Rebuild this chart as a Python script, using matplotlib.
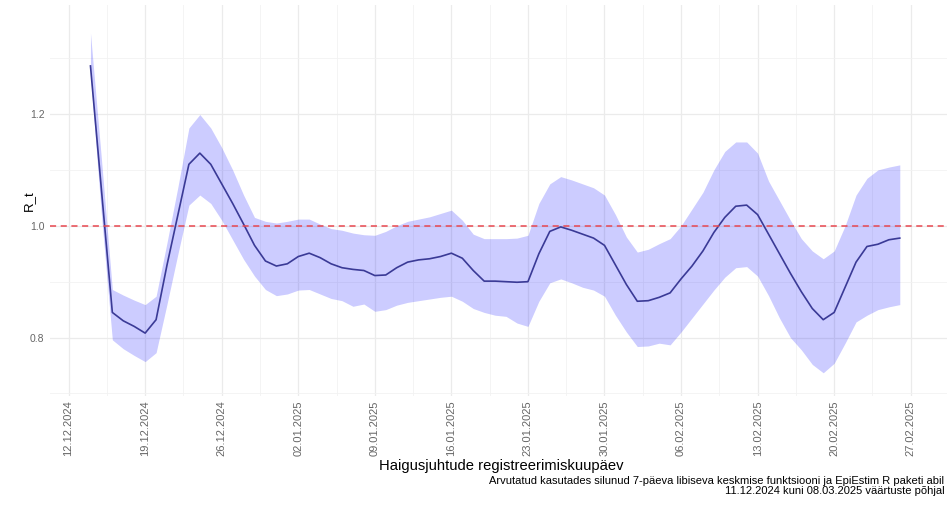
import matplotlib
matplotlib.use("Agg")
import matplotlib.pyplot as plt
import matplotlib.dates as mdates
import pandas as pd

plt.rcParams["font.family"] = ["Liberation Sans", "DejaVu Sans"]

# daily R_t estimate with 95% interval, 14.12.2024 - 26.02.2025
first_day = "2024-12-14"
r_mean = [
    1.286, 1.065, 0.845, 0.830, 0.820, 0.808, 0.832, 0.930, 1.020, 1.110,
    1.130, 1.110, 1.075, 1.040, 1.003, 0.965, 0.937, 0.928, 0.932, 0.945,
    0.951, 0.943, 0.932, 0.925, 0.922, 0.920, 0.911, 0.912, 0.925, 0.935,
    0.939, 0.941, 0.945, 0.951, 0.942, 0.920, 0.901, 0.901, 0.900, 0.899,
    0.900, 0.950, 0.990, 0.998, 0.992, 0.985, 0.978, 0.965, 0.930, 0.895,
    0.865, 0.866, 0.872, 0.880, 0.905, 0.928, 0.955, 0.988, 1.015, 1.035,
    1.037, 1.020, 0.985, 0.950, 0.915, 0.882, 0.852, 0.832, 0.845, 0.890,
    0.935, 0.963, 0.967, 0.975, 0.978,
]
r_upper = [
    1.345, 1.120, 0.886, 0.876, 0.867, 0.859, 0.874, 0.970, 1.070, 1.175,
    1.199, 1.175, 1.140, 1.100, 1.055, 1.015, 1.008, 1.005, 1.008, 1.012,
    1.012, 1.003, 0.995, 0.992, 0.987, 0.984, 0.983, 0.990, 1.000, 1.008,
    1.012, 1.016, 1.022, 1.028, 1.010, 0.985, 0.977, 0.977, 0.977, 0.978,
    0.983, 1.040, 1.075, 1.088, 1.082, 1.075, 1.068, 1.055, 1.020, 0.980,
    0.953, 0.958, 0.968, 0.977, 1.000, 1.030, 1.060, 1.100, 1.133, 1.150,
    1.150, 1.130, 1.080, 1.045, 1.010, 0.977, 0.955, 0.941, 0.955, 1.000,
    1.055, 1.085, 1.100, 1.105, 1.109,
]
r_lower = [
    1.270, 1.020, 0.796, 0.780, 0.768, 0.757, 0.773, 0.860, 0.950, 1.037,
    1.055, 1.040, 1.010, 0.975, 0.940, 0.910, 0.886, 0.875, 0.878, 0.885,
    0.886, 0.878, 0.870, 0.866, 0.856, 0.860, 0.847, 0.850, 0.858, 0.863,
    0.866, 0.869, 0.872, 0.874, 0.865, 0.852, 0.845, 0.840, 0.838, 0.826,
    0.820, 0.865, 0.898, 0.905, 0.898, 0.890, 0.885, 0.874, 0.840, 0.810,
    0.784, 0.785, 0.790, 0.787, 0.810, 0.835, 0.860, 0.885, 0.908, 0.925,
    0.927, 0.910, 0.875, 0.835, 0.800, 0.778, 0.752, 0.737, 0.754, 0.790,
    0.828, 0.840, 0.850, 0.855, 0.859,
]
y_ticks = [0.8, 1.0, 1.2]
y_minor = [0.7, 0.9, 1.1, 1.3]
tick_start, tick_end = "2024-12-12", "2025-02-27"

dates = pd.date_range(first_day, periods=len(r_mean), freq="D")
major = pd.date_range(tick_start, tick_end, freq="7D")
minor = major + pd.Timedelta(hours=84)

fig = plt.figure(figsize=(9.47, 5.07), dpi=100)
ax = fig.add_axes([50 / 947, 111 / 507, 899 / 947, 391 / 507])

ax.fill_between(dates, r_lower, r_upper, color="#0000ff", alpha=0.2, linewidth=0)
ax.plot(dates, r_mean, color="#3a3a96", linewidth=1.2)
ax.axhline(1.0, color="#e8474f", linestyle=(0, (4, 3)), linewidth=1.1)

pad = (dates[-1] - dates[0]) * 0.05
ax.set_xlim(dates[0] - pad, dates[-1] + pad)
ax.set_ylim(0.6955, 1.395)

ax.set_xticks(major)
ax.set_xticks(minor, minor=True)
ax.xaxis.set_major_formatter(mdates.DateFormatter("%d.%m.%Y"))
ax.set_yticks(y_ticks, [f"{v:.1f}" for v in y_ticks])
ax.set_yticks(y_minor, minor=True)
ax.tick_params(axis="x", rotation=90, labelsize=8, labelcolor="#666666", length=0, pad=3)
ax.tick_params(axis="y", labelsize=7.5, labelcolor="#666666", length=0, pad=4)
ax.tick_params(which="minor", length=0)

ax.grid(which="major", color="#ebebeb", linewidth=0.9)
ax.grid(which="minor", color="#f2f2f2", linewidth=0.6)
ax.set_axisbelow(True)
for spine in ax.spines.values():
    spine.set_visible(False)

ax.set_ylabel("R_t", fontsize=9.5)
ax.yaxis.set_label_coords(-15 / 899, 0.5)
fig.text(501 / 947, 1 - 466 / 507, "Haigusjuhtude registreerimiskuupäev",
         ha="center", va="center", fontsize=10.6)
fig.text(0.997, 1 - 486 / 507,
         "Arvutatud kasutades silunud 7-päeva libiseva keskmise funktsiooni ja EpiEstim R paketi abil\n"
         "11.12.2024 kuni 08.03.2025 väärtuste põhjal",
         ha="right", va="center", fontsize=8, linespacing=1.05)

fig.savefig("out.png", dpi=100)
